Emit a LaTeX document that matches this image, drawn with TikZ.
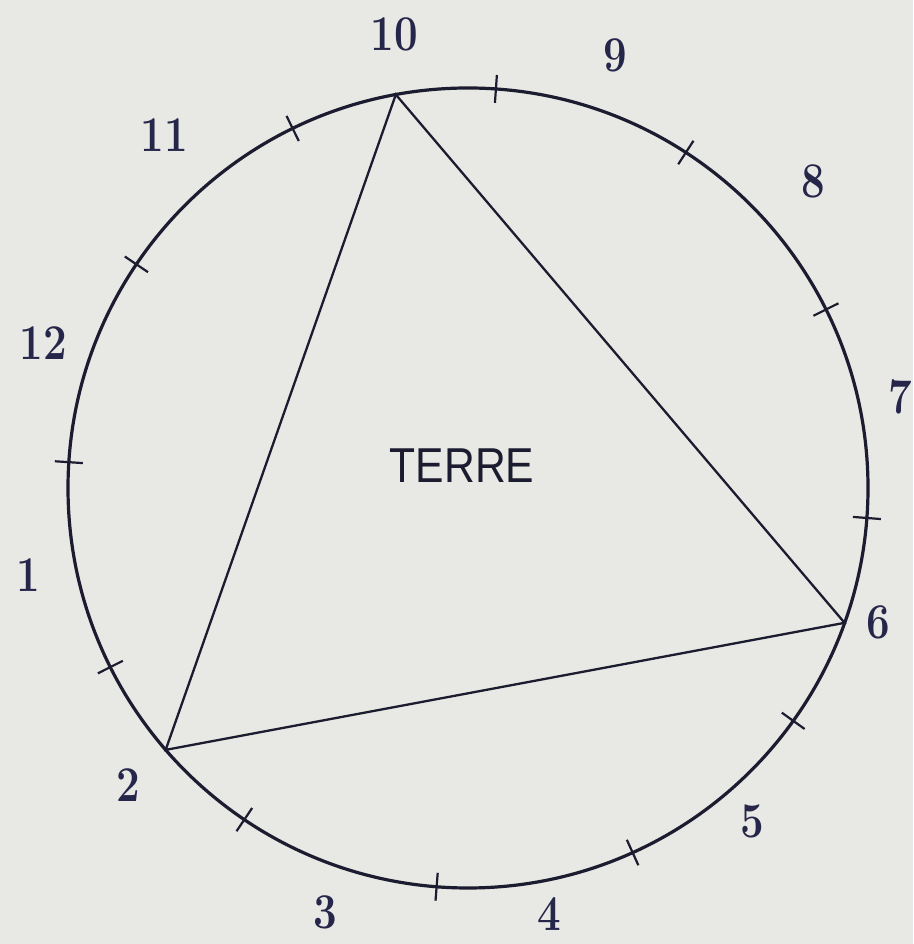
\documentclass[tikz,border=0pt]{standalone}
\usepackage{fontspec}
\usepackage{graphicx}
\newfontfamily\terrefont{Liberation Sans}
\definecolor{paper}{HTML}{E8E8E4}
\definecolor{ink}{HTML}{1C1C30}
\definecolor{digit}{HTML}{26264A}
\newcommand{\dig}[1]{\scalebox{0.84}[1]{#1}}
\tikzset{
  rim/.style={draw=ink, line width=3.2pt},
  side/.style={draw=ink, line width=2.3pt},
  tickmark/.style={draw=ink, line width=2.2pt},
  num/.style={text=digit, inner sep=0pt, font=\fontsize{50}{50}\selectfont\bfseries},
  lbl/.style={text=ink, inner sep=0pt, font=\terrefont\fontsize{49}{49}\selectfont},
}
\begin{document}
\begin{tikzpicture}[x=1pt,y=1pt]
\fill[paper] (0,0) rectangle (913,944);
\useasboundingbox (0,0) rectangle (913,944);
% circle centre (468,488) in image pixels -> (468,456)
\coordinate (O) at (468,456);
\begin{scope}[shift={(468,456)}]
  \draw[rim] (0,0) circle (400);
  % ticks
  \foreach \a [count=\i] in {86,57,26.5,-4.3,-35.6,-65.7,-94.5,-124,-153.4,176.3,146,116}{
    \coordinate (ti\i) at (\a:386);
    \coordinate (to\i) at (\a:414);
    \draw[tickmark] (ti\i) -- (to\i);
  }
  % triangle vertices
  \coordinate (v10) at (100.4:400);
  \coordinate (v6) at (-19.7:400);
  \coordinate (v2) at (-139.1:400);
\end{scope}
\draw[side] (v10) -- (v6) -- (v2) -- cycle;
% labels (image px -> y = 944 - py)
\node[num] (n10) at (394,910) {\dig{10}};
\node[num] (n9)  at (615,889) {\dig{9}};
\node[num] (n8)  at (813,763) {\dig{8}};
\node[num] (n7)  at (900,547) {\dig{7}};
\node[num] (n6)  at (878,322) {\dig{6}};
\node[num] (n5)  at (752,123) {\dig{5}};
\node[num] (n4)  at (549,30)  {\dig{4}};
\node[num] (n3)  at (325,32)  {\dig{3}};
\node[num] (n2)  at (128,159) {\dig{2}};
\node[num] (n1)  at (28,369)  {\dig{1}};
\node[num] (n12) at (43,601)  {\dig{12}};
\node[num] (n11) at (164,809) {\dig{11}};
\node[lbl] (terre) at (462,478) {\scalebox{0.87}[1]{TERRE}};
\end{tikzpicture}
\end{document}
